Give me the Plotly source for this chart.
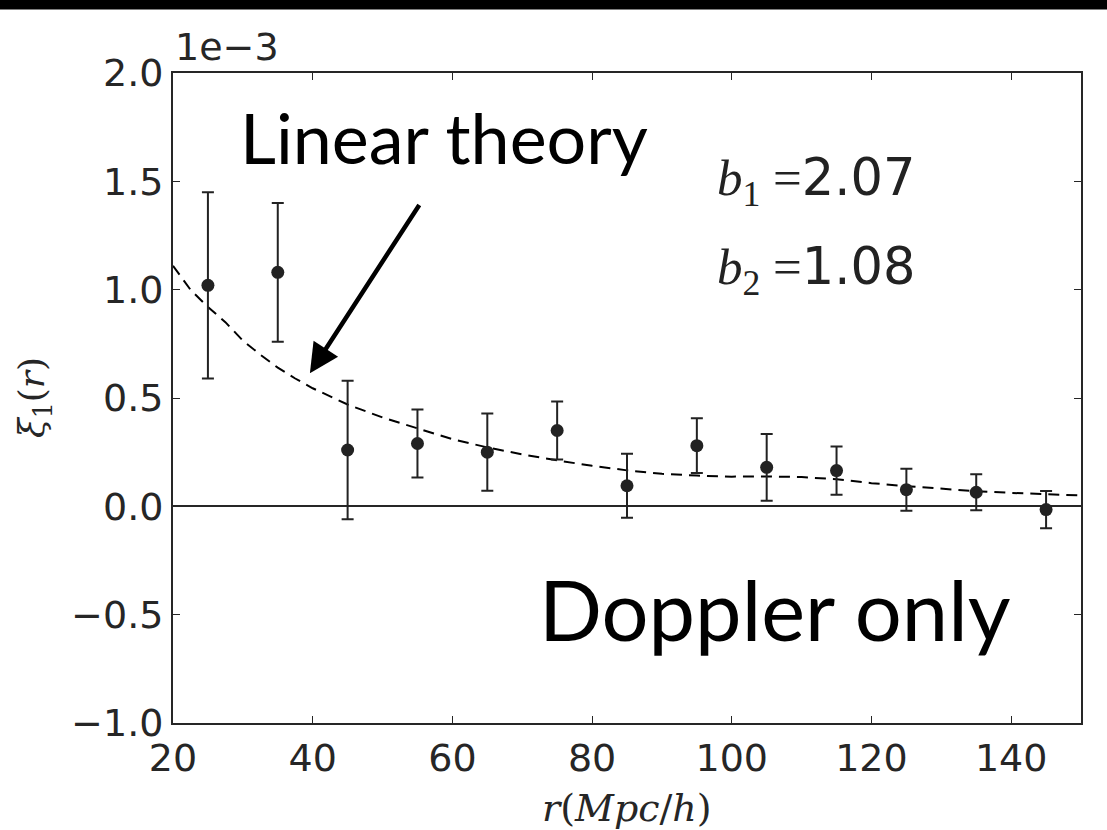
import plotly.graph_objects as go

# Data (xi values in units of 1e-3)
r_bins = [25, 35, 45, 55, 65, 75, 85, 95, 105, 115, 125, 135, 145]
xi_obs = [1.02, 1.08, 0.26, 0.29, 0.25, 0.35, 0.095, 0.28, 0.18, 0.165, 0.077, 0.065, -0.015]
xi_err = [0.43, 0.32, 0.32, 0.157, 0.178, 0.134, 0.148, 0.126, 0.154, 0.111, 0.097, 0.083, 0.086]

curve_r = [20, 22.5, 25, 27.5, 30, 32.5, 35, 37.5, 40, 45, 50, 55, 60, 65, 70, 75, 80, 85,
           90, 95, 100, 105, 110, 115, 120, 125, 130, 135, 140, 145, 150]
curve_xi = [1.11, 1.0, 0.92, 0.85, 0.765, 0.70, 0.64, 0.59, 0.545, 0.47, 0.41, 0.36, 0.31,
            0.272, 0.24, 0.212, 0.187, 0.166, 0.15, 0.142, 0.137, 0.138, 0.135, 0.125,
            0.107, 0.093, 0.08, 0.07, 0.062, 0.055, 0.05]

y_ticks = [-1.0, -0.5, 0.0, 0.5, 1.0, 1.5, 2.0]
y_ticktext = ["\u22121.0", "\u22120.5", "0.0", "0.5", "1.0", "1.5", "2.0"]
x_ticks = [20, 40, 60, 80, 100, 120, 140]

b1_val = "2.07"
b2_val = "1.08"

INK = "#222222"
AX = "#262626"

fig = go.Figure()

fig.add_trace(go.Scatter(
    x=curve_r, y=curve_xi, mode="lines",
    line=dict(color="black", width=2, dash="11px,7px"),
    hoverinfo="skip", showlegend=False))

fig.add_trace(go.Scatter(
    x=r_bins, y=xi_obs, mode="markers",
    marker=dict(color=INK, size=13),
    error_y=dict(type="data", array=xi_err, visible=True, color=INK, thickness=2, width=6),
    showlegend=False))

axis_common = dict(
    showgrid=False, showline=True, linecolor=AX, linewidth=2, mirror="ticks",
    ticks="inside", ticklen=7, tickwidth=1, tickcolor=AX,
    tickfont=dict(family="DejaVu Sans", size=38, color=AX))

fig.update_xaxes(range=[20, 150], tickvals=x_ticks, zeroline=False, **axis_common)
fig.update_yaxes(range=[-1.0, 2.0], tickvals=y_ticks, ticktext=y_ticktext,
                 zeroline=True, zerolinecolor=AX, zerolinewidth=2, **axis_common)

annotations = [
    dict(x=0.0, y=1.0, xref="paper", yref="paper", xanchor="left", yanchor="bottom",
         text="1e\u22123", showarrow=False, yshift=2,
         font=dict(family="DejaVu Sans", size=38, color=AX)),
    dict(x=0.5, y=-0.131, xref="paper", yref="paper", xanchor="center", yanchor="middle",
         text="<i>r</i>(<i>Mpc</i>/<i>h</i>)", showarrow=False,
         font=dict(family="DejaVu Serif", size=38, color=AX)),
    dict(x=-0.153, y=0.5, xref="paper", yref="paper", xanchor="center", yanchor="middle",
         text="<i>ξ</i><sub>1</sub>(<i>r</i>)", showarrow=False, textangle=-90,
         font=dict(family="DejaVu Serif", size=36, color=AX)),
    dict(x=0.072, y=1.0, xref="paper", yref="paper", xanchor="left", yanchor="top",
         text="Linear theory", showarrow=False, yshift=-20,
         font=dict(family="Lato", size=70, color="black")),
    dict(x=0.925, y=0.095, xref="paper", yref="paper", xanchor="right", yanchor="bottom",
         text="Doppler only", showarrow=False,
         font=dict(family="Lato", size=83, color="black")),
    dict(x=97.6, y=1.50, xref="x", yref="y", xanchor="left", yanchor="middle",
         text="<i>b</i><sub>1</sub> =<span style='font-family:DejaVu Sans'>" + b1_val + "</span>",
         showarrow=False, font=dict(family="Liberation Serif", size=51, color=INK)),
    dict(x=97.6, y=1.09, xref="x", yref="y", xanchor="left", yanchor="middle",
         text="<i>b</i><sub>2</sub> =<span style='font-family:DejaVu Sans'>" + b2_val + "</span>",
         showarrow=False, font=dict(family="Liberation Serif", size=51, color=INK)),
    dict(x=39.6, y=0.614, ax=55.4, ay=1.398, xref="x", yref="y", axref="x", ayref="y",
         text="", showarrow=True, arrowhead=2, arrowsize=1.3, arrowwidth=4.5, arrowcolor="black"),
]

fig.update_layout(
    width=1107, height=830,
    margin=dict(l=173, r=26, t=73, b=107),
    paper_bgcolor="white", plot_bgcolor="white",
    annotations=annotations,
    shapes=[dict(type="rect", xref="paper", yref="paper", x0=-0.3, x1=1.1,
                 y0=1 + 63.5 / 650, y1=1 + 80 / 650, fillcolor="black", line=dict(width=0),
                 layer="above")],
)

fig.write_html("out.html", config={"displayModeBar": False},
               post_script="document.body.style.margin='0';document.body.style.overflow='hidden';")
